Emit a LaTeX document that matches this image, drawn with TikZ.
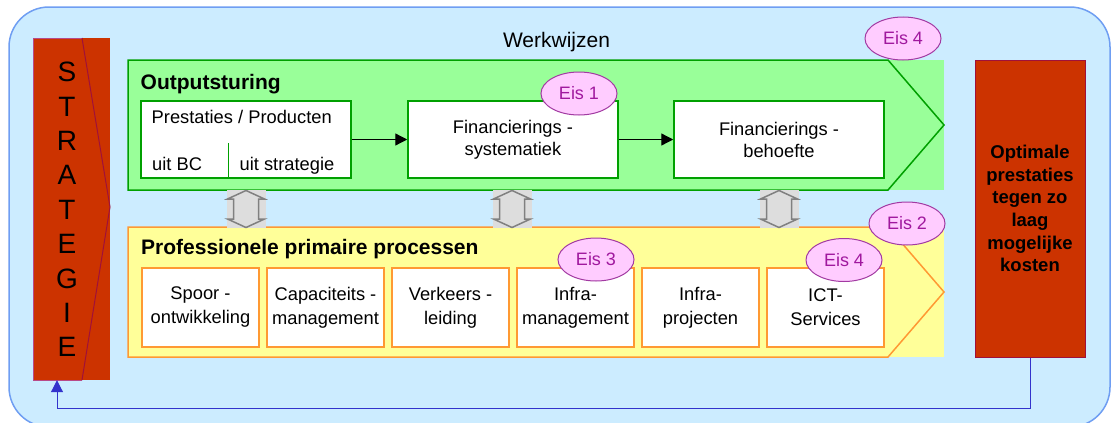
\documentclass[tikz,border=0pt]{standalone}
\usepackage{fontspec}
\setmainfont{Liberation Sans}
\usetikzlibrary{arrows.meta,shapes.geometric}
\definecolor{bluebg}{HTML}{CCECFF}
\definecolor{blueedge}{HTML}{6F9EF2}
\definecolor{redfill}{HTML}{CC3300}
\definecolor{rededge}{HTML}{A0103A}
\definecolor{stratedge}{HTML}{B84A88}
\definecolor{greenfill}{HTML}{99FF99}
\definecolor{greenedge}{HTML}{00A000}
\definecolor{yellowfill}{HTML}{FFFF99}
\definecolor{orangeedge}{HTML}{FF9933}
\definecolor{eisfill}{HTML}{FFCCFF}
\definecolor{eisedge}{HTML}{A23AA2}
\definecolor{eistext}{HTML}{A0189E}
\definecolor{graybg}{HTML}{DDDDDD}
\definecolor{grayedge}{HTML}{808080}
\definecolor{fbblue}{HTML}{3333CC}
\begin{document}
\begin{tikzpicture}[x=1pt,y=-1pt,
  boxg/.style={draw=greenedge, fill=white, line width=1.5pt, minimum width=210pt, minimum height=77pt, inner sep=0pt, align=center, font=\fontsize{18.3}{22}\selectfont},
  boxy/.style={draw=orangeedge, fill=white, line width=1.5pt, minimum width=117pt, minimum height=79pt, inner sep=0pt, align=center, font=\fontsize{18.3}{24}\selectfont},
  eis/.style={ellipse, draw=eisedge, fill=eisfill, line width=1pt, minimum width=76pt, minimum height=43pt, inner sep=0pt, text=eistext, font=\fontsize{18}{20}\selectfont},
  title/.style={anchor=base west, inner sep=0pt, font=\bfseries\fontsize{21}{24}\selectfont},
  plain/.style={anchor=base west, inner sep=0pt, font=\fontsize{18.3}{22}\selectfont},
  flow/.style={line width=1.3pt, -{Triangle[length=12pt,width=12pt]}},
  fb/.style={draw=fbblue, line width=1pt, -{Triangle[length=12pt,width=12pt]}},
  dbl/.pic={
    \fill[graybg] (-19.5,-19) rectangle (19.5,19);
    \draw[grayedge, line width=1.5pt, line join=miter]
      (0,-18.5) -- (18.5,-10) -- (12.5,-10) -- (12.5,10) -- (18.5,10) -- (0,18.5)
      -- (-18.5,10) -- (-12.5,10) -- (-12.5,-10) -- (-18.5,-10) -- cycle;
  }
]
\useasboundingbox (0,0) rectangle (1114,423);
% outer background
\begin{scope}
  \clip (0,0) rectangle (1114,423);
  \draw[fill=bluebg, draw=blueedge, line width=1.5pt, rounded corners=40pt] (9,7) rectangle (1110,427);
\end{scope}

% STRATEGIE
\node[fill=redfill, minimum width=77pt, minimum height=342pt, inner sep=0pt] (strat) at (71.5,209) {};
\draw[stratedge, line width=1pt] (82,38) -- (33,38) -- (33,380) -- (82,380);
\draw[rededge, line width=1pt] (82,38) -- (110,207) -- (82,380);
\node[align=center, inner sep=0pt, font=\fontsize{28}{34.4}\selectfont] (stratlbl) at (67,209.5) {S\\T\\R\\A\\T\\E\\G\\I\\E};

% Werkwijzen
\node[anchor=base, inner sep=0pt, font=\fontsize{21}{24}\selectfont] (werk) at (556.5,47) {Werkwijzen};

% green band
\fill[greenfill] (128,60) rectangle (944,190);
\draw[greenedge, line width=1.5pt, line join=miter] (128,60) -- (888,60) -- (944,125) -- (888,190) -- (128,190) -- cycle;
\node[title] (outp) at (140.5,89) {Outputsturing};

% yellow band
\fill[yellowfill] (128,227) rectangle (944,357);
\draw[orangeedge, line width=1.5pt, line join=miter] (128,227) -- (888,227) -- (944,292) -- (888,357) -- (128,357) -- cycle;
\node[title] (prof) at (141,254) {Professionele primaire processen};

% double arrows
\pic at (246,209) {dbl};
\pic at (512,209) {dbl};
\pic at (779,209) {dbl};

% Outputsturing boxes
\node[boxg] (prest) at (246,139.5) {};
\draw[greenedge, line width=1.2pt] (228.3,143) -- (228.3,178);
\node[plain] (prestlbl) at (151.5,123) {Prestaties / Producten};
\node[plain] (bc) at (152,170) {uit BC};
\node[plain] (strg) at (239.5,170) {uit strategie};
\node[boxg] (fin1) at (513,139.5) {Financierings -\\systematiek};
\node[boxg] (fin2) at (779,139.5) {Financierings -\\behoefte};
\draw[flow] (prest) -- (fin1);
\draw[flow] (fin1) -- (fin2);

% process boxes
\node[boxy] (p1) at (200.5,307.5) {Spoor -\\ontwikkeling};
\node[boxy] (p2) at (325.5,307.5) {Capaciteits -\\management};
\node[boxy] (p3) at (450.5,307.5) {Verkeers -\\leiding};
\node[boxy] (p4) at (575.5,307.5) {Infra-\\management};
\node[boxy] (p5) at (700.5,307.5) {Infra-\\projecten};
\node[boxy] (p6) at (825.5,307.5) {ICT-\\Services};

% Eis ellipses
\node[eis] (eis1) at (579,93.5) {Eis 1};
\node[eis] (eis4a) at (903,38.5) {Eis 4};
\node[eis] (eis2) at (907,223.5) {Eis 2};
\node[eis] (eis3) at (596,259.5) {Eis 3};
\node[eis] (eis4b) at (844,260) {Eis 4};

% Optimale
\node[fill=redfill, draw=rededge, line width=1pt, minimum width=110pt, minimum height=297pt, inner sep=0pt, align=center, font=\bfseries\fontsize{18.5}{22.7}\selectfont] (opt) at (1030,208.5) {Optimale\\prestaties\\tegen zo\\laag\\mogelijke\\kosten};

% feedback
\coordinate (fbc) at (57,408);
\draw[fb] (opt.south) |- (fbc) -- (fbc |- strat.south);
\end{tikzpicture}
\end{document}
